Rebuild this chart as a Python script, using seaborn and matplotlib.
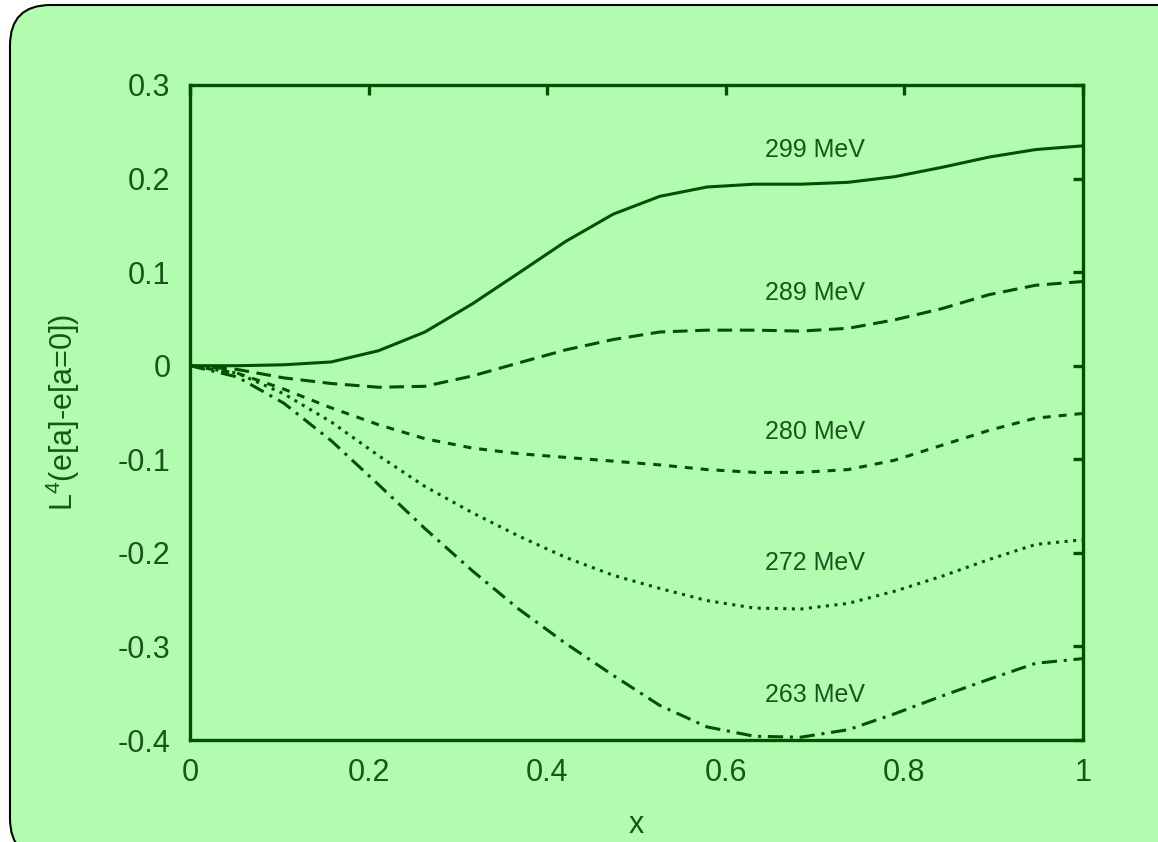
import matplotlib
matplotlib.use('Agg')
import matplotlib.pyplot as plt
from matplotlib.patches import FancyBboxPatch
import seaborn as sns
import pandas as pd

# x grid of the curves (20 points from 0 to 1)
x_vals = [0.0, 0.053, 0.105, 0.158, 0.211, 0.263, 0.316, 0.368, 0.421, 0.474,
          0.526, 0.579, 0.632, 0.684, 0.737, 0.789, 0.842, 0.895, 0.947, 1.0]

e_299 = [0.0, 0.0, 0.001, 0.004, 0.016, 0.036, 0.066, 0.099, 0.133, 0.162,
         0.181, 0.191, 0.194, 0.194, 0.196, 0.202, 0.212, 0.223, 0.231, 0.235]
e_289 = [0.0, -0.004, -0.013, -0.019, -0.023, -0.022, -0.011, 0.003, 0.017, 0.028,
         0.036, 0.038, 0.038, 0.037, 0.040, 0.049, 0.061, 0.076, 0.086, 0.090]
e_280 = [0.0, -0.008, -0.025, -0.045, -0.063, -0.078, -0.088, -0.094, -0.098, -0.102,
         -0.106, -0.111, -0.114, -0.114, -0.111, -0.101, -0.085, -0.069, -0.056, -0.051]
e_272 = [0.0, -0.008, -0.030, -0.060, -0.096, -0.129, -0.157, -0.182, -0.205, -0.224,
         -0.238, -0.251, -0.259, -0.260, -0.254, -0.241, -0.225, -0.207, -0.191, -0.186]
e_263 = [0.0, -0.012, -0.040, -0.080, -0.127, -0.174, -0.219, -0.260, -0.297, -0.331,
         -0.363, -0.386, -0.396, -0.397, -0.389, -0.372, -0.353, -0.335, -0.318, -0.313]

labels = ['299 MeV', '289 MeV', '280 MeV', '272 MeV', '263 MeV']
series = [e_299, e_289, e_280, e_272, e_263]
label_y = [0.230, 0.078, -0.071, -0.211, -0.352]

x_ticks = [0, 0.2, 0.4, 0.6, 0.8, 1]
x_ticklabels = ['0', '0.2', '0.4', '0.6', '0.8', '1']
y_ticks = [0.3, 0.2, 0.1, 0, -0.1, -0.2, -0.3, -0.4]
y_ticklabels = ['0.3', '0.2', '0.1', '0', '-0.1', '-0.2', '-0.3', '-0.4']

bg = '#b2fcb0'
line_col = '#005200'
text_col = '#1a551a'

sns.set_style('white')
plt.rcParams['font.family'] = ['Liberation Sans', 'DejaVu Sans']
plt.rcParams['mathtext.fontset'] = 'custom'
plt.rcParams['mathtext.rm'] = 'Liberation Sans'

fig = plt.figure(figsize=(11.58, 8.42), dpi=100)
fig.patch.set_facecolor('white')

# rounded green panel behind everything
panel = FancyBboxPatch((10 / 1158, -0.02), 1.05, 1.0 - 5 / 842 + 0.02,
                       boxstyle='round,pad=0,rounding_size=0.035',
                       transform=fig.transFigure, facecolor=bg,
                       edgecolor='black', linewidth=1.5, zorder=-5,
                       mutation_aspect=1158 / 842)
fig.patches.append(panel)

ax = fig.add_axes([190 / 1158, 1 - 740 / 842, (1083 - 190) / 1158, (740 - 85) / 842])
ax.set_facecolor('none')

styles = ['-', (0, (4.8, 2.5)), (0, (2.6, 2.6)), (0, (1.0, 1.8)), (0, (5, 2.2, 1, 2.2))]

df = pd.DataFrame({'x': x_vals * len(series),
                   'val': sum(series, []),
                   'label': [lab for lab in labels for _ in x_vals]})

for lab, ls, ty in zip(labels, styles, label_y):
    sub = df[df['label'] == lab]
    sns.lineplot(data=sub, x='x', y='val', ax=ax, color=line_col, linewidth=2.2,
                 linestyle=ls, dash_capstyle='butt')
    ax.text(0.644, ty, lab, fontsize=18, color=text_col, va='center', ha='left')

ax.set_xlim(0, 1)
ax.set_ylim(-0.4, 0.3)
ax.set_xticks(x_ticks)
ax.set_xticklabels(x_ticklabels)
ax.set_yticks(y_ticks)
ax.set_yticklabels(y_ticklabels)
ax.tick_params(direction='in', length=7, width=2.4, color=line_col,
               labelsize=22, labelcolor=text_col, top=True, right=True)
ax.tick_params(axis='y', pad=14)
ax.tick_params(axis='x', pad=13)

for sp in ax.spines.values():
    sp.set_color(line_col)
    sp.set_linewidth(2.4)

ax.set_xlabel('x', fontsize=22, color=text_col, labelpad=16)
ax.set_ylabel(r'$\mathregular{L^4}$(e[a]-e[a=0])', fontsize=22, color=text_col, labelpad=26)

fig.savefig('out.png', dpi=100, facecolor=fig.get_facecolor())
